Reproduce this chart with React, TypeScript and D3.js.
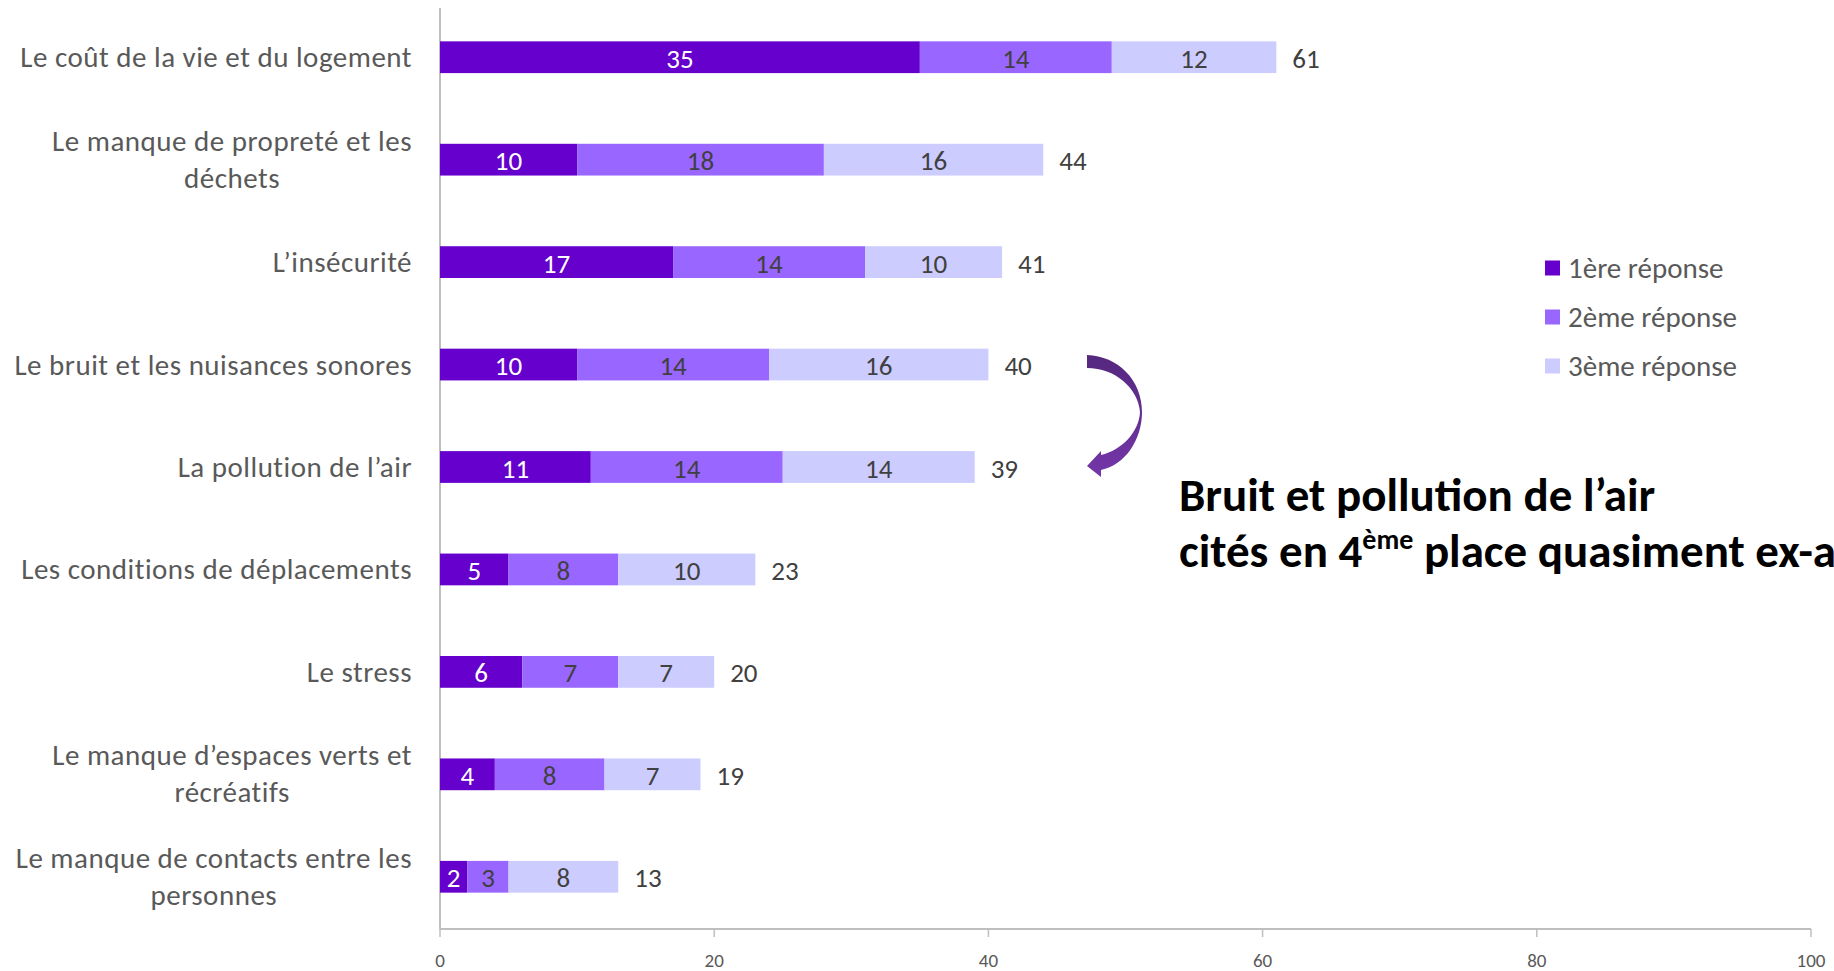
import React, { useEffect, useRef } from "react";
import * as d3 from "d3";

const categories = [
  ["Le coût de la vie et du logement"],
  ["Le manque de propreté et les", "déchets"],
  ["L’insécurité"],
  ["Le bruit et les nuisances sonores"],
  ["La pollution de l’air"],
  ["Les conditions de déplacements"],
  ["Le stress"],
  ["Le manque d’espaces verts et", "récréatifs"],
  ["Le manque de contacts entre les", "personnes"],
];
const first = [35, 10, 17, 10, 11, 5, 6, 4, 2];
const second = [14, 18, 14, 14, 14, 8, 7, 8, 3];
const third = [12, 16, 10, 16, 14, 10, 7, 7, 8];
const totals = [61, 44, 41, 40, 39, 23, 20, 19, 13];
const seriesNames = ["1ère réponse", "2ème réponse", "3ème réponse"];
const seriesColors = ["#6600CC", "#9966FF", "#CCCCFF"];
const labelColors = ["#FFFFFF", "#404040", "#404040"];
const xTicks = [0, 20, 40, 60, 80, 100];

const FONT = "Carlito, Calibri, Lato, sans-serif";
const CAT_SIZE = 29;
const VAL_SIZE = 27;

export default function App() {
  const ref = useRef<SVGSVGElement>(null);
  useEffect(() => {
    const svg = d3.select(ref.current);
    svg.selectAll("*").remove();
    const x = d3.scaleLinear().domain([0, 100]).range([440, 1811]);
    const idx = categories.map((_, i) => String(i));
    const y = d3.scaleBand().domain(idx).range([6, 928]).paddingInner(0.69).paddingOuter(0.345);
    const series = [first, second, third];

    const defs = svg.append("defs");
    const grad = defs.append("linearGradient").attr("id", "arrowGrad").attr("x1", 0).attr("y1", 0).attr("x2", 0).attr("y2", 1);
    grad.append("stop").attr("offset", "0%").attr("stop-color", "#55287F");
    grad.append("stop").attr("offset", "100%").attr("stop-color", "#7436A8");

    // axes lines
    svg.append("line").attr("x1", x(0)).attr("x2", x(0)).attr("y1", 8).attr("y2", 929)
      .attr("stroke", "#BFBFBF").attr("stroke-width", 2);
    svg.append("line").attr("x1", x(0)).attr("x2", x(100)).attr("y1", 929).attr("y2", 929)
      .attr("stroke", "#BFBFBF").attr("stroke-width", 2);
    svg.selectAll(".tick").data(xTicks).enter().append("line")
      .attr("x1", (d) => x(d)).attr("x2", (d) => x(d)).attr("y1", 929).attr("y2", 937)
      .attr("stroke", "#BFBFBF").attr("stroke-width", 1.5);
    svg.selectAll(".ticklbl").data(xTicks).enter().append("text")
      .attr("x", (d) => x(d)).attr("y", 960).attr("text-anchor", "middle").attr("dominant-baseline", "central")
      .attr("font-family", FONT).attr("font-size", 19).attr("fill", "#595959").text((d) => d);

    // bars
    categories.forEach((cat, i) => {
      const yc = (y(String(i)) as number);
      const bh = y.bandwidth();
      let acc = 0;
      series.forEach((s, k) => {
        const v = s[i];
        svg.append("rect").attr("x", x(acc)).attr("y", yc).attr("width", x(acc + v) - x(acc)).attr("height", bh)
          .attr("fill", seriesColors[k]);
        svg.append("text").attr("x", (x(acc) + x(acc + v)) / 2).attr("y", yc + bh / 2 + 1)
          .attr("text-anchor", "middle").attr("dominant-baseline", "central")
          .attr("font-family", FONT).attr("font-size", VAL_SIZE).attr("fill", labelColors[k]).text(v);
        acc += v;
      });
      svg.append("text").attr("x", x(totals[i]) + 16).attr("y", yc + bh / 2 + 1)
        .attr("dominant-baseline", "central").attr("font-family", FONT).attr("font-size", VAL_SIZE)
        .attr("fill", "#404040").text(totals[i]);

      const cy = yc + bh / 2;
      const right = 412;
      const lbl = (yy: number) => svg.append("text").attr("y", yy).attr("dominant-baseline", "central")
        .attr("font-family", FONT).attr("font-size", CAT_SIZE).attr("letter-spacing", 0.5).attr("fill", "#595959");
      if (cat.length === 1) {
        lbl(cy).attr("x", right).attr("text-anchor", "end").text(cat[0]);
      } else {
        const t1 = lbl(cy - 19).attr("x", right).attr("text-anchor", "end").text(cat[0]);
        const w = (t1.node() as SVGTextElement).getComputedTextLength();
        lbl(cy + 18).attr("x", right - w / 2).attr("text-anchor", "middle").text(cat[1]);
      }
    });

    // legend
    seriesNames.forEach((n, k) => {
      const cy = 268 + k * 49;
      svg.append("rect").attr("x", 1545).attr("y", cy - 7.5).attr("width", 15).attr("height", 15).attr("fill", seriesColors[k]);
      svg.append("text").attr("x", 1568).attr("y", cy).attr("dominant-baseline", "central")
        .attr("font-family", FONT).attr("font-size", CAT_SIZE).attr("fill", "#595959").text(n);
    });

    // curved arrow
    svg.append("path")
      .attr("d", "M1087,355 C1118,356 1142,380 1142,412 C1142,440 1125,465 1101,470 L1101,477 L1087,466 L1101,451 L1101,455 C1122,450 1139,432 1140,412 C1138,388 1115,368 1087,368 Z")
      .attr("fill", "url(#arrowGrad)");

    // annotation
    svg.append("text").attr("x", 1179).attr("y", 511).attr("font-family", FONT).attr("font-weight", "bold")
      .attr("font-size", 47).attr("fill", "#000").text("Bruit et pollution de l’air");
    const t2 = svg.append("text").attr("x", 1179).attr("y", 567).attr("font-family", FONT).attr("font-weight", "bold")
      .attr("font-size", 47).attr("fill", "#000");
    t2.append("tspan").text("cités en 4");
    t2.append("tspan").attr("font-size", 28).attr("dy", -18).text("ème");
    t2.append("tspan").attr("dy", 18).text(" place quasiment ex-aequo");
  }, []);
  return (
    <svg ref={ref} width={1834} height={971} style={{ position: "absolute", left: 0, top: 0, background: "#fff" }} />
  );
}
